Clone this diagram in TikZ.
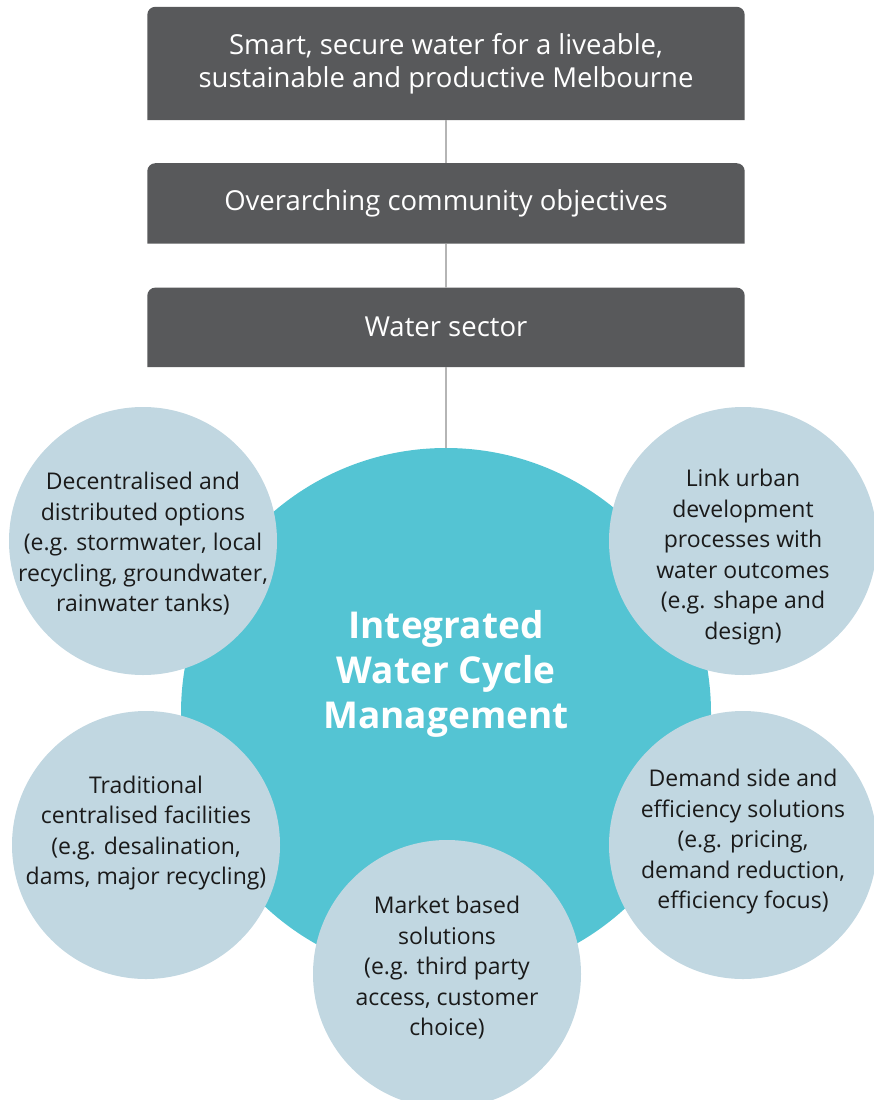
\documentclass[tikz,border=0pt]{standalone}
\usepackage{fontspec}
\setmainfont{Open Sans}
\usetikzlibrary{positioning,backgrounds,calc}
\definecolor{slate}{HTML}{58595B}
\definecolor{wire}{HTML}{B5B5B5}
\definecolor{lagoon}{HTML}{54C4D3}
\definecolor{mist}{HTML}{C1D7E1}
\definecolor{ink}{HTML}{1A1A1A}
\tikzset{
  banner/.style={text=white, align=center, minimum width=597pt, inner sep=0pt,
                 font=\fontsize{27.5}{33}\selectfont},
  link/.style={draw=wire, line width=1.6pt},
  hub/.style={circle, fill=lagoon, minimum size=530pt, inner sep=0pt},
  hubtext/.style={text=white, align=center, font=\fontsize{37}{45}\selectfont\bfseries},
  option/.style={circle, fill=mist, minimum size=268pt, inner sep=0pt},
  optext/.style={text=ink, align=center, inner sep=0pt, font=\fontsize{23}{30.5}\selectfont},
}

\begin{document}
\begin{tikzpicture}[x=1pt, y=-1pt]
\useasboundingbox (0,0) rectangle (874,1100);

% --- banners ----------------------------------------------------------------------------
\node[banner, minimum height=113pt] (vision) at (446,63.5)
  {Smart, secure water for a liveable,\\sustainable and productive Melbourne};
\node[banner, minimum height=80pt, below=43pt of vision] (goals) {Overarching community objectives};
\node[banner, minimum height=79pt, below=44pt of goals] (sector) {Water sector};
\begin{scope}[on background layer]
  \foreach \b in {vision,goals,sector}
    \fill[slate, rounded corners=8pt] (\b.south west) -- (\b.north west) -- (\b.north east) -- (\b.south east);
\end{scope}

% --- hub and the five options round it ------------------------------------------------
\node[hub] (iwcm) at (446,713) {};
\node[option] (decent) at (143,541) {};
\node[option] (urban)  at (743,541) {};
\node[option] (trad)   at (146,845) {};
\node[option] (demand) at (743,845) {};
\node[option] (market) at (447,974) {};

\node[hubtext] at ($(iwcm)+(0,-39)$) {Integrated\\Water Cycle\\Management};
\node[optext] at ($(decent)+(0,3)$)
  {Decentralised and\\distributed options\\(e.g. stormwater, local\\recycling, groundwater,\\rainwater tanks)};
\node[optext] at ($(urban)+(0,16)$)
  {Link urban\\development\\processes with\\water outcomes\\(e.g. shape and\\design)};
\node[optext] at ($(trad)+(0,-12)$)
  {Traditional\\centralised facilities\\(e.g. desalination,\\dams, major recycling)};
\node[optext] at ($(demand)+(0,-3)$)
  {Demand side and\\efficiency solutions\\(e.g. pricing,\\demand reduction,\\efficiency focus)};
\node[optext] at ($(market)+(0,-6)$)
  {Market based\\solutions\\(e.g. third party\\access, customer\\choice)};

% --- links ------------------------------------------------------------------------------
\draw[link] (vision) -- (goals);
\draw[link] (goals) -- (sector);
\draw[link] (sector) -- (iwcm);

\end{tikzpicture}
\end{document}
